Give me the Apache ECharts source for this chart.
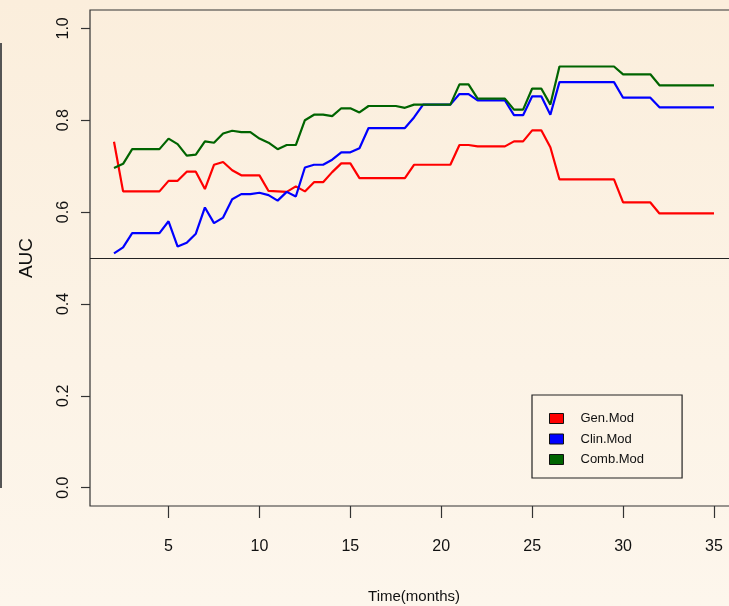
<!DOCTYPE html>
<html>
<head>
<meta charset="utf-8">
<script src="https://cdn.jsdelivr.net/npm/echarts@6/dist/echarts.min.js"></script>
<style>
  html, body { margin: 0; padding: 0; }
  body { width: 729px; height: 606px; background: linear-gradient(to bottom, #fbeedc 0%, #fcf3e6 60%, #fdf6ec 100%); }
  #chart { width: 729px; height: 606px; }
</style>
</head>
<body>
<div id="chart"></div>
<script>
// Time points (months)
const months = [2,2.5,3,3.5,4,4.5,5,5.5,6,6.5,7,7.5,8,8.5,9,9.5,10,10.5,11,11.5,12,12.5,13,13.5,14,14.5,15,15.5,16,16.5,17,17.5,18,18.5,19,19.5,20,20.5,21,21.5,22,22.5,23,23.5,24,24.5,25,25.5,26,26.5,27,27.5,28,28.5,29,29.5,30,30.5,31,31.5,32,32.5,33,33.5,34,34.5,35];

// AUC values per model
const genMod = [0.753,0.645,0.645,0.645,0.645,0.645,0.668,0.668,0.688,0.688,0.650,0.703,0.709,0.691,0.680,0.680,0.680,0.646,0.645,0.644,0.656,0.645,0.665,0.665,0.687,0.706,0.706,0.674,0.674,0.674,0.674,0.674,0.674,0.703,0.703,0.703,0.703,0.703,0.746,0.746,0.743,0.743,0.743,0.743,0.754,0.754,0.778,0.778,0.741,0.671,0.671,0.671,0.671,0.671,0.671,0.671,0.621,0.621,0.621,0.621,0.597,0.597,0.597,0.597,0.597,0.597,0.597];
const clinMod = [0.510,0.523,0.554,0.554,0.554,0.554,0.580,0.525,0.533,0.553,0.610,0.576,0.588,0.628,0.639,0.639,0.642,0.637,0.625,0.644,0.634,0.697,0.703,0.703,0.714,0.730,0.730,0.739,0.783,0.783,0.783,0.783,0.783,0.806,0.834,0.834,0.834,0.834,0.857,0.857,0.843,0.843,0.843,0.843,0.811,0.811,0.852,0.852,0.812,0.883,0.883,0.883,0.883,0.883,0.883,0.883,0.849,0.849,0.849,0.849,0.828,0.828,0.828,0.828,0.828,0.828,0.828];
const combMod = [0.696,0.705,0.737,0.737,0.737,0.737,0.760,0.748,0.723,0.725,0.754,0.751,0.771,0.777,0.774,0.774,0.760,0.751,0.737,0.746,0.746,0.800,0.812,0.812,0.809,0.826,0.826,0.817,0.831,0.831,0.831,0.831,0.827,0.834,0.834,0.834,0.834,0.834,0.878,0.878,0.847,0.847,0.847,0.847,0.823,0.823,0.869,0.869,0.834,0.917,0.917,0.917,0.917,0.917,0.917,0.917,0.900,0.900,0.900,0.900,0.876,0.876,0.876,0.876,0.876,0.876,0.876];

const seriesNames = ['Gen.Mod', 'Clin.Mod', 'Comb.Mod'];
const seriesColors = ['#ff0000', '#0000ff', '#006400'];

// Tick labels
const xTicks = [5, 10, 15, 20, 25, 30, 35];
const yTicks = [0, 0.2, 0.4, 0.6, 0.8, 1.0];
const refLine = 0.5;

const font = "'Liberation Sans', Arial, sans-serif";

const allValues = [genMod, clinMod, combMod];
const series = allValues.map((vals, i) => ({
  name: seriesNames[i],
  type: 'line',
  data: months.map((t, j) => [t, vals[j]]),
  showSymbol: false,
  symbol: 'none',
  lineStyle: { color: seriesColors[i], width: 2.2 },
  itemStyle: { color: seriesColors[i] },
  z: 3 + i,
  animation: false
}));
series[0].markLine = {
  silent: true,
  symbol: ['none', 'none'],
  label: { show: false },
  lineStyle: { color: '#222', width: 1.2, type: 'solid' },
  data: [{ yAxis: refLine }],
  animation: false
};

const chart = echarts.init(document.getElementById('chart'), null, { renderer: 'canvas' });
chart.setOption({
  backgroundColor: 'transparent',
  animation: false,
  grid: {
    left: 90, top: 10, width: 648, height: 496,
    show: true, borderColor: '#333', borderWidth: 1.2,
    backgroundColor: 'transparent',
    containLabel: false, outerBoundsMode: 'none'
  },
  xAxis: {
    type: 'value', min: 0.68, max: 36.32,
    name: 'Time(months)', nameLocation: 'middle', nameGap: 83,
    nameTextStyle: { fontFamily: font, fontSize: 15, color: '#111' },
    axisLine: { show: false, onZero: false },
    splitLine: { show: false },
    axisTick: { show: true, length: 12, customValues: xTicks, lineStyle: { color: '#333', width: 1.2 } },
    axisLabel: { customValues: xTicks, margin: 33, fontFamily: font, fontSize: 16, color: '#111' }
  },
  yAxis: {
    type: 'value', min: -0.04, max: 1.04,
    name: 'AUC', nameLocation: 'middle', nameGap: 54, nameRotate: 90,
    nameTextStyle: { fontFamily: font, fontSize: 19, color: '#111' },
    axisLine: { show: false, onZero: false },
    splitLine: { show: false },
    axisTick: { show: true, length: 9, customValues: yTicks, lineStyle: { color: '#333', width: 1.2 } },
    axisLabel: { customValues: yTicks, rotate: 90, margin: 18, fontFamily: font, fontSize: 16, color: '#111',
      formatter: v => Number(v).toFixed(1) }
  },
  legend: {
    data: seriesNames,
    orient: 'vertical',
    left: 532, top: 395,
    icon: 'rect',
    itemWidth: 14, itemHeight: 10, itemGap: 7.5,
    padding: [17, 38, 12, 17],
    borderColor: '#222', borderWidth: 1.2,
    backgroundColor: 'transparent',
    itemStyle: { borderColor: '#111', borderWidth: 1 },
    textStyle: { fontFamily: font, fontSize: 13, color: '#111', padding: [0, 0, 0, 12] }
  },
  graphic: [{
    type: 'line', silent: true,
    shape: { x1: 1, y1: 43, x2: 1, y2: 488 },
    style: { stroke: '#555', lineWidth: 2 }
  }],
  series: series
});
</script>
</body>
</html>
